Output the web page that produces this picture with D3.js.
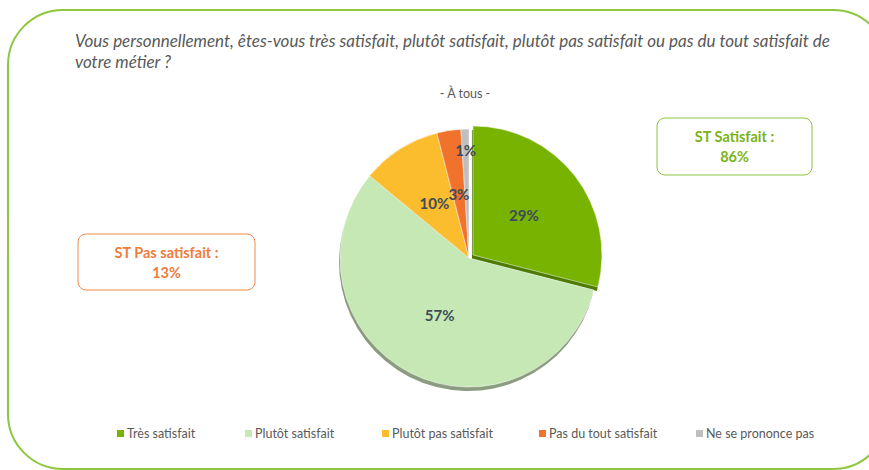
<!DOCTYPE html>
<html>
<head>
<meta charset="utf-8">
<script src="https://cdn.jsdelivr.net/npm/d3@7"></script>
<style>
body { margin: 0; background: #fff; }
text { font-family: Lato, "Open Sans", sans-serif; }
</style>
</head>
<body>
<script>
// données
var categories = ["Très satisfait", "Plutôt satisfait", "Plutôt pas satisfait", "Pas du tout satisfait", "Ne se prononce pas"];
var values = [29, 57, 10, 3, 1];
var colors = ["#77b300", "#c6e8b4", "#fbbd2e", "#f0722c", "#bfbfbf"];
var shadowColors = ["#4d7a00", "#8c9c80", "#9a6a10", "#9a4010", "#808080"];
var titleLines = ["Vous personnellement, êtes-vous très satisfait, plutôt satisfait, plutôt pas satisfait ou pas du tout satisfait de", "votre métier ?"];
var subtitle = "- À tous -";
var summaryLabels = ["ST Satisfait :", "ST Pas satisfait :"];
var summaryValues = [86, 13];

var width = 869, height = 470;

var svg = d3.select("body").append("svg")
    .attr("width", width)
    .attr("height", height);

// cadre vert
svg.append("rect")
    .attr("x", 8).attr("y", 10)
    .attr("width", 880).attr("height", 459)
    .attr("rx", 55).attr("ry", 55)
    .attr("fill", "none")
    .attr("stroke", "#8dc63f")
    .attr("stroke-width", 2);

// titre
svg.selectAll(".title")
    .data(titleLines)
    .enter().append("text")
    .attr("class", "title")
    .attr("x", 75)
    .attr("y", (d, i) => 47 + i * 21)
    .attr("font-style", "italic")
    .attr("font-size", "17px")
    .attr("fill", "#595959")
    .text(d => d);

svg.append("text")
    .attr("x", 465).attr("y", 98)
    .attr("text-anchor", "middle")
    .attr("font-size", "12.5px")
    .attr("fill", "#595959")
    .text(subtitle);

// camembert
var cx = 469, cy = 258, R = 129;
var pie = d3.pie().sort(null).value(d => d);
var arcs = pie(values);
var arc = d3.arc().innerRadius(0).outerRadius(R);

var g = svg.append("g").attr("transform", "translate(" + cx + "," + cy + ")");

function offset(d, i) {
    // la part "Très satisfait" est détachée
    if (i !== 0) return [0, 0];
    var a = (d.startAngle + d.endAngle) / 2;
    return [Math.sin(a) * 5, -Math.cos(a) * 5];
}

// ombre 3D
g.selectAll(".shadow")
    .data(arcs)
    .enter().append("path")
    .attr("class", "shadow")
    .attr("d", arc)
    .attr("fill", (d, i) => shadowColors[i])
    .attr("transform", (d, i) => { var o = offset(d, i); return "translate(" + (o[0] - 1) + "," + (o[1] + 4) + ")"; });

g.selectAll(".slice")
    .data(arcs)
    .enter().append("path")
    .attr("class", "slice")
    .attr("d", arc)
    .attr("fill", (d, i) => colors[i])
    .attr("stroke", "#fff")
    .attr("stroke-width", 0.5)
    .attr("transform", (d, i) => { var o = offset(d, i); return "translate(" + o[0] + "," + o[1] + ")"; });

g.selectAll(".lbl")
    .data(arcs)
    .enter().append("text")
    .attr("class", "lbl")
    .attr("transform", (d, i) => {
        var r = d.data < 2 ? R * 0.83 : R * 0.5;
        var c = d3.arc().innerRadius(r).outerRadius(r).centroid(d);
        var o = offset(d, i);
        return "translate(" + (c[0] + o[0]) + "," + (c[1] + o[1]) + ")";
    })
    .attr("text-anchor", "middle")
    .attr("dy", "0.35em")
    .attr("font-size", "15px")
    .attr("font-weight", "bold")
    .attr("fill", "#404b5a")
    .text(d => d.data + "%");

// encadrés
var boxes = [
    {x: 657, y: 118, w: 155, h: 57, color: "#8dc63f", text: "#7ab317"},
    {x: 78, y: 234, w: 177, h: 56, color: "#f08a4b", text: "#ee7d3b"}
];
boxes.forEach((b, i) => {
    svg.append("rect")
        .attr("x", b.x).attr("y", b.y)
        .attr("width", b.w).attr("height", b.h)
        .attr("rx", 8)
        .attr("fill", "#fff")
        .attr("stroke", b.color)
        .attr("stroke-width", 1);
    svg.append("text")
        .attr("x", b.x + b.w / 2).attr("y", b.y + 24)
        .attr("text-anchor", "middle")
        .attr("font-size", "14.5px").attr("font-weight", "bold")
        .attr("fill", b.text)
        .text(summaryLabels[i]);
    svg.append("text")
        .attr("x", b.x + b.w / 2).attr("y", b.y + 44)
        .attr("text-anchor", "middle")
        .attr("font-size", "14.5px").attr("font-weight", "bold")
        .attr("fill", b.text)
        .text(summaryValues[i] + "%");
});

// légende
var legendPos = [117, 245, 382, 539, 696];
var leg = svg.selectAll(".leg")
    .data(categories)
    .enter().append("g")
    .attr("class", "leg")
    .attr("transform", (d, i) => "translate(" + legendPos[i] + ",434)");
leg.append("rect")
    .attr("x", 0).attr("y", -4)
    .attr("width", 7).attr("height", 7)
    .attr("fill", (d, i) => colors[i]);
leg.append("text")
    .attr("x", 10).attr("y", 4)
    .attr("font-size", "12.5px")
    .attr("fill", "#595959")
    .text(d => d);
</script>
</body>
</html>
